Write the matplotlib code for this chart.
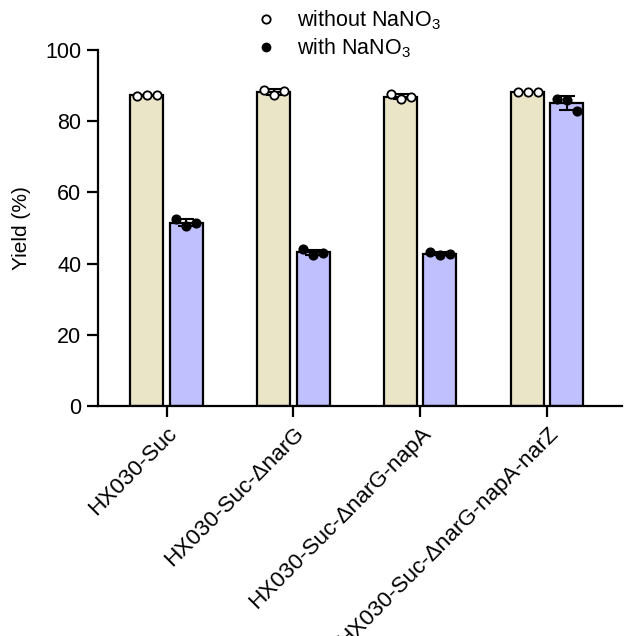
import numpy as np
import matplotlib
matplotlib.use("Agg")
import matplotlib.pyplot as plt
from matplotlib.lines import Line2D

plt.rcParams['font.family'] = ['Liberation Sans', 'DejaVu Sans']
plt.rcParams['mathtext.fontset'] = 'custom'
plt.rcParams['mathtext.rm'] = 'Liberation Sans'
plt.rcParams['mathtext.it'] = 'Liberation Sans:italic'

# Cepas y rendimientos de cada réplica
cepas = ['HX030-Suc',
         'HX030-Suc-ΔnarG',
         'HX030-Suc-ΔnarG-napA',
         'HX030-Suc-ΔnarG-napA-narZ']
sin_nitrato = [[87.2, 87.3, 87.4],
               [88.7, 87.3, 88.6],
               [87.6, 86.3, 86.7],
               [88.3, 88.2, 88.3]]
con_nitrato = [[52.6, 50.7, 51.3],
               [44.0, 42.5, 42.9],
               [43.4, 42.3, 42.8],
               [86.3, 86.0, 82.8]]

color_sin = '#ebe5c8'
color_con = '#c0c0ff'

fig = plt.figure(figsize=(6.26, 6.36), dpi=100)
ax = fig.add_axes([0.1565, 0.3616, 0.8375, 0.5598])

x = np.arange(len(cepas))
ancho = 0.26
desp = 0.154

for datos, signo, color, relleno in [(sin_nitrato, -1, color_sin, 'white'),
                                     (con_nitrato, 1, color_con, 'black')]:
    medias = [np.mean(d) for d in datos]
    sd = [np.std(d, ddof=1) for d in datos]
    pos = x + signo * desp
    ax.bar(pos, medias, width=ancho, color=color, edgecolor='black',
           linewidth=1.6, zorder=1)
    ax.errorbar(pos, medias, yerr=sd, fmt='none', ecolor='black',
                elinewidth=1.5, capsize=6, capthick=1.5, zorder=3)
    for p, d in zip(pos, datos):
        ax.plot(p + np.array([-0.08, 0, 0.08]), d, 'o', ms=6,
                mfc=relleno, mec='black', mew=1.3, zorder=4, clip_on=False)

ax.set_xlim(-0.54, 3.59)
ax.set_ylim(0, 100)
ax.set_yticks([0, 20, 40, 60, 80, 100])
ax.set_xticks(x)
ax.set_xticklabels(cepas, rotation=45, ha='right', va='top',
                   rotation_mode='anchor', fontsize=16.2)
ax.set_ylabel('Yield (%)', fontsize=15, labelpad=10)

for s in ['top', 'right']:
    ax.spines[s].set_visible(False)
for s in ['left', 'bottom']:
    ax.spines[s].set_linewidth(1.6)
ax.tick_params(axis='both', width=1.6, length=8, pad=4)
ax.tick_params(axis='y', labelsize=15.5)

leyenda = [Line2D([], [], ls='none', marker='o', ms=6, mfc='white',
                  mec='black', mew=1.3, label='without NaNO$_3$'),
           Line2D([], [], ls='none', marker='o', ms=6, mfc='black',
                  mec='black', label='with NaNO$_3$')]
fig.legend(handles=leyenda, loc='upper left', bbox_to_anchor=(0.36, 1.017),
           frameon=False, fontsize=15.5, handletextpad=0.45,
           labelspacing=0.2)

fig.savefig('out.png', dpi=100)
